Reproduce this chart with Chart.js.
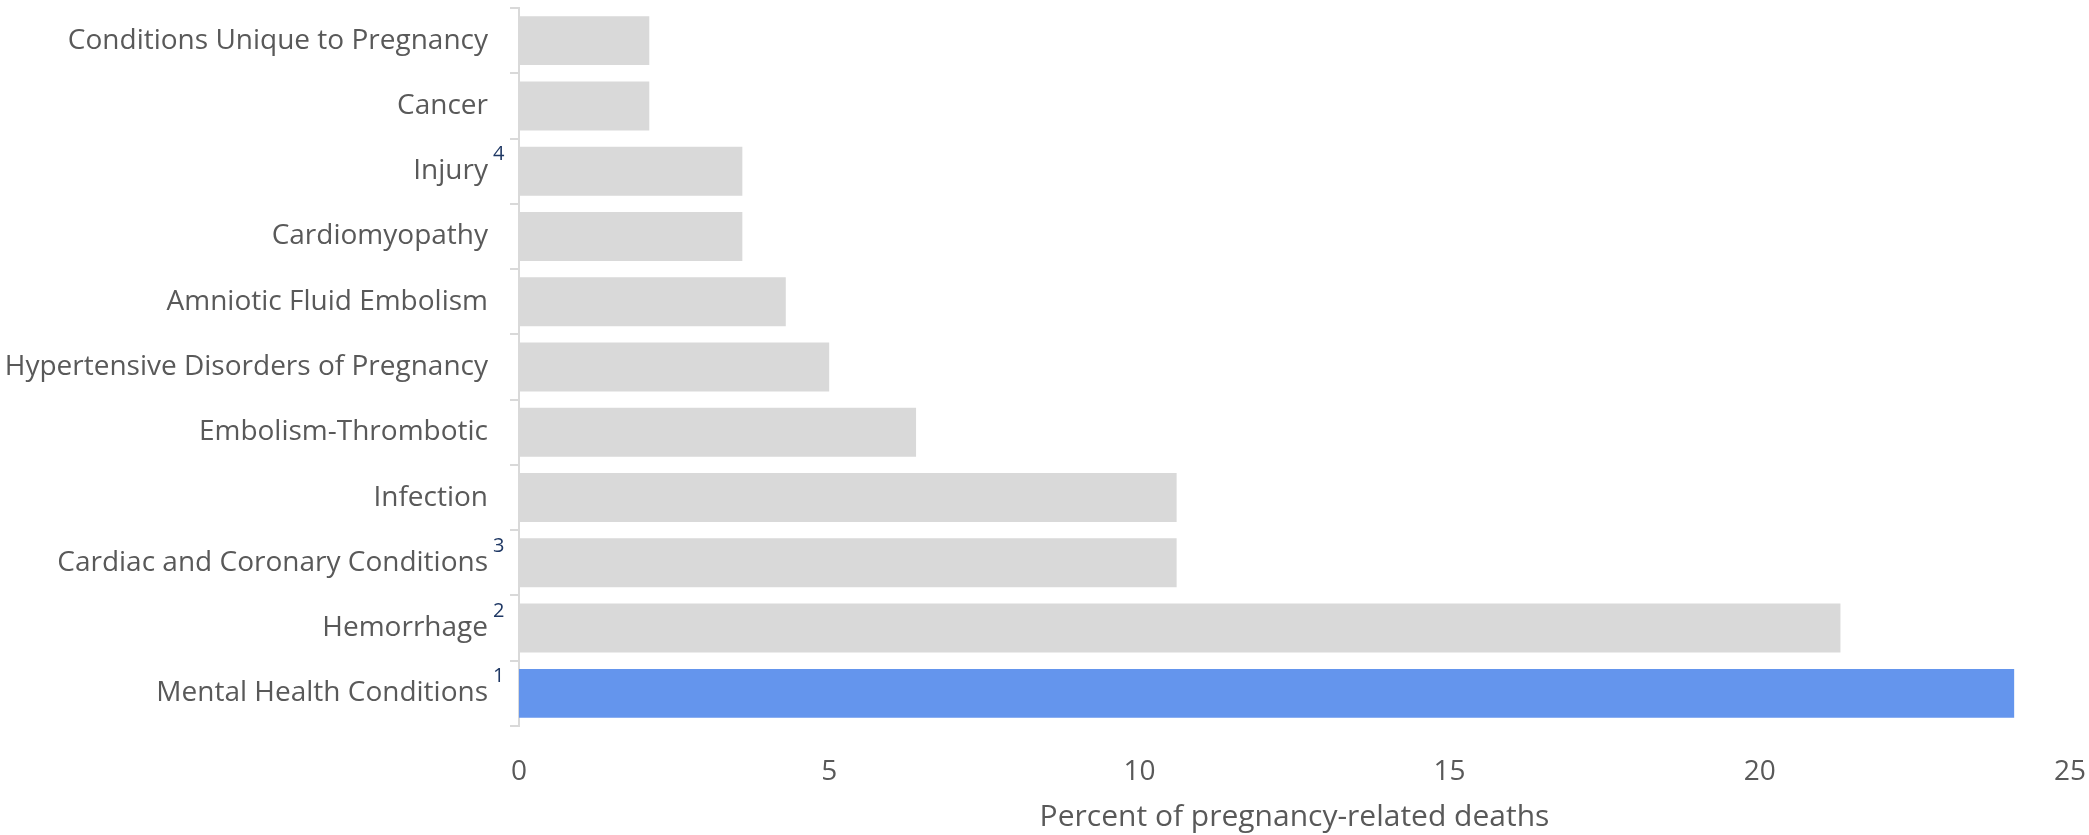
<!DOCTYPE html>
<html lang="en">
<head>
    <meta charset="UTF-8">
    <title>Causes of pregnancy-related deaths</title>
    <script src="https://cdn.jsdelivr.net/npm/chart.js"></script>
    <style>
        html, body {
            margin: 0;
            padding: 0;
            background: #ffffff;
        }
        #causesChart {
            display: block;
        }
    </style>
</head>
<body>
    <canvas id="causesChart" width="2089" height="835"></canvas>

    <script>
        // categories, top to bottom
        const causes = [
            'Conditions Unique to Pregnancy',
            'Cancer',
            'Injury',
            'Cardiomyopathy',
            'Amniotic Fluid Embolism',
            'Hypertensive Disorders of Pregnancy',
            'Embolism-Thrombotic',
            'Infection',
            'Cardiac and Coronary Conditions',
            'Hemorrhage',
            'Mental Health Conditions'
        ];
        // percent of pregnancy-related deaths
        const percents = [2.1, 2.1, 3.6, 3.6, 4.3, 5.0, 6.4, 10.6, 10.6, 21.3, 24.1];
        // footnote markers next to the labels
        const footnotes = ['', '', '4', '', '', '', '', '', '3', '2', '1'];
        const highlighted = 'Mental Health Conditions';

        const textGrey = '#595959';
        const fontFamily = '"Open Sans", "Noto Sans", sans-serif';

        // small superscript numbers after the category labels
        const footnotePlugin = {
            id: 'footnotes',
            afterDraw(chart) {
                const ctx = chart.ctx;
                const yScale = chart.scales.y;
                ctx.save();
                ctx.fillStyle = '#1f3864';
                ctx.font = '20px ' + fontFamily;
                ctx.textAlign = 'left';
                ctx.textBaseline = 'middle';
                footnotes.forEach((mark, i) => {
                    if (!mark) return;
                    const y = yScale.getPixelForTick(i);
                    ctx.fillText(mark, yScale.right - 26, y - 17);
                });
                ctx.restore();
            }
        };

        const ctx = document.getElementById('causesChart').getContext('2d');
        new Chart(ctx, {
            type: 'bar',
            data: {
                labels: causes,
                datasets: [{
                    data: percents,
                    backgroundColor: causes.map(c => c === highlighted ? '#6495ed' : '#d9d9d9'),
                    categoryPercentage: 1,
                    barPercentage: 0.75
                }]
            },
            options: {
                indexAxis: 'y',
                responsive: false,
                animation: false,
                layout: {
                    padding: { top: 8, right: 19, left: 0, bottom: 0 }
                },
                plugins: {
                    legend: { display: false },
                    tooltip: { enabled: false }
                },
                scales: {
                    x: {
                        min: 0,
                        max: 25,
                        ticks: {
                            stepSize: 5,
                            color: textGrey,
                            font: { family: fontFamily, size: 28 },
                            padding: 21
                        },
                        grid: { display: false },
                        border: { display: false },
                        title: {
                            display: true,
                            text: 'Percent of pregnancy-related deaths',
                            color: textGrey,
                            font: { family: fontFamily, size: 30 },
                            padding: { top: 2, bottom: 0 }
                        },
                        afterFit(scale) {
                            scale.height = 109;
                            // no extra room for the end labels
                            scale.paddingLeft = 0;
                            scale.paddingRight = 0;
                        }
                    },
                    y: {
                        ticks: {
                            color: textGrey,
                            font: { family: fontFamily, size: 28 },
                            padding: 22
                        },
                        grid: {
                            offset: true,
                            drawOnChartArea: false,
                            tickLength: 9,
                            color: '#d9d9d9',
                            lineWidth: 2
                        },
                        border: {
                            display: true,
                            color: '#d9d9d9',
                            width: 2
                        },
                        afterFit(scale) {
                            scale.width = 519;
                            scale.paddingTop = 0;
                            scale.paddingBottom = 0;
                        }
                    }
                }
            },
            plugins: [footnotePlugin]
        });
    </script>
</body>
</html>
